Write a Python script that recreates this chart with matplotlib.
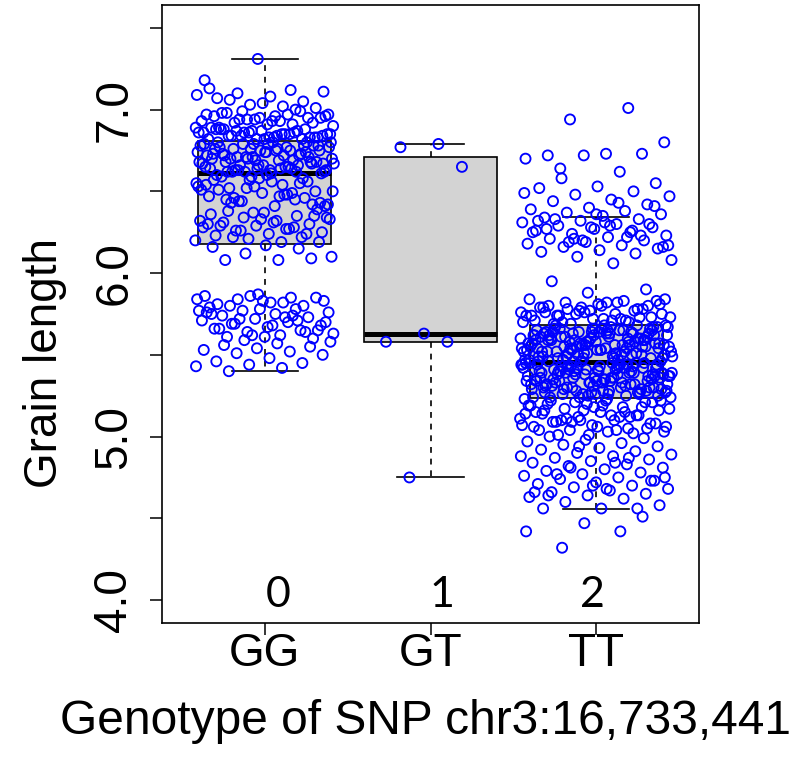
# Grain length by genotype at SNP chr3:16,733,441 (boxplot + jittered points)
import numpy as np
import matplotlib
matplotlib.use("Agg")
import matplotlib.pyplot as plt

# ---- data ----
GENOTYPES = ["GG", "GT", "TT"]
GROUP_CODES = ["0", "1", "2"]

# box statistics (whisker low, Q1, median, Q3, whisker high)
BOX_LOW = [5.40, 4.75, 4.555]
BOX_Q1 = [6.18, 5.58, 5.234]
BOX_MED = [6.61, 5.63, 5.458]
BOX_Q3 = [6.81, 6.71, 5.682]
BOX_HIGH = [7.31, 6.79, 6.343]

GG_VALUES = [
    7.31, 7.18, 7.12, 7.10, 7.11, 7.08, 7.07, 7.05, 7.03, 7.09, 7.02, 7.06, 7.01, 7.04, 7.13, 7.00,
    6.99, 6.97, 6.96, 6.98, 6.95, 6.94, 6.93, 6.97, 6.92, 6.95, 6.91, 6.96, 6.99, 6.94, 6.90, 6.93,
    6.98, 6.92, 6.95, 6.97, 6.91, 6.94, 6.96, 6.93,
    6.89, 6.88, 6.87, 6.86, 6.85, 6.84, 6.83, 6.82, 6.89, 6.87, 6.86, 6.85, 6.84, 6.88, 6.83, 6.82,
    6.86, 6.85, 6.87, 6.84, 6.83, 6.88, 6.82, 6.86, 6.89, 6.85, 6.84, 6.83, 6.87, 6.82, 6.86, 6.84,
    6.85, 6.83, 6.88,
    6.80, 6.79, 6.78, 6.77, 6.76, 6.75, 6.74, 6.73, 6.72, 6.71, 6.70, 6.69, 6.68, 6.67, 6.66, 6.65,
    6.64, 6.63, 6.62, 6.61, 6.80, 6.78, 6.76, 6.74, 6.72, 6.70, 6.68, 6.66, 6.64, 6.62, 6.79, 6.77,
    6.75, 6.73, 6.71, 6.69, 6.67, 6.65, 6.63, 6.61, 6.79, 6.76, 6.73, 6.70, 6.67, 6.64, 6.62, 6.78,
    6.75, 6.72, 6.69, 6.66, 6.63, 6.80, 6.77, 6.74, 6.71, 6.68, 6.65, 6.62, 6.78, 6.74, 6.70, 6.66,
    6.62, 6.80, 6.76, 6.72, 6.68, 6.64, 6.79, 6.75, 6.71, 6.67, 6.63,
    6.60, 6.58, 6.57, 6.55, 6.54, 6.52, 6.50, 6.49, 6.47, 6.45, 6.44, 6.42, 6.41, 6.59, 6.56, 6.53,
    6.51, 6.48, 6.46, 6.43, 6.60, 6.57, 6.55, 6.52, 6.50, 6.47, 6.45, 6.42, 6.58, 6.54, 6.49, 6.44,
    6.41, 6.56, 6.51, 6.46, 6.59, 6.53, 6.48, 6.43,
    6.39, 6.37, 6.36, 6.35, 6.34, 6.33, 6.32, 6.31, 6.30, 6.29, 6.28, 6.27, 6.26, 6.25, 6.24, 6.23,
    6.22, 6.21, 6.20, 6.19, 6.38, 6.35, 6.33, 6.30, 6.28, 6.26, 6.34, 6.31, 6.29, 6.24, 6.37, 6.32,
    6.27, 6.22, 6.19,
    6.17, 6.16, 6.15, 6.12, 6.10, 6.08, 6.08, 6.09,
    5.87, 5.86, 5.85, 5.84, 5.83, 5.82, 5.81, 5.80, 5.86, 5.84, 5.82, 5.80, 5.85, 5.83,
    5.79, 5.78, 5.77, 5.76, 5.75, 5.74, 5.73, 5.72, 5.71, 5.70, 5.69, 5.68, 5.67, 5.66, 5.65, 5.64,
    5.63, 5.62, 5.61, 5.60, 5.78, 5.76, 5.74, 5.72, 5.70, 5.68, 5.66, 5.64, 5.62, 5.77, 5.73, 5.69,
    5.65, 5.61, 5.75, 5.71,
    5.59, 5.58, 5.57, 5.56, 5.55, 5.54, 5.53, 5.52, 5.51, 5.50, 5.48, 5.46, 5.45, 5.44, 5.43, 5.42,
    5.40,
]

GT_VALUES = [6.79, 6.77, 6.65, 5.63, 5.58, 5.58, 4.75]

TT_VALUES = [
    7.01, 6.94, 6.80, 6.73, 6.72, 6.73, 6.72, 6.70, 6.62, 6.58, 6.55, 6.53, 6.52, 6.50, 6.48, 6.47,
    6.45, 6.44, 6.42, 6.40, 6.39, 6.38, 6.37, 6.36, 6.35, 6.34, 6.33, 6.32, 6.31, 6.30, 6.29, 6.28,
    6.27, 6.26, 6.25, 6.24, 6.23, 6.22, 6.21, 6.20, 6.19, 6.18, 6.17, 6.16, 6.15, 6.14, 6.13, 6.12,
    6.10, 6.08, 6.06, 6.33, 6.30, 6.28, 6.25, 6.22, 6.19, 6.16, 6.31, 6.27, 6.23, 6.20, 6.49, 6.43,
    6.64, 6.41, 6.36, 6.32, 6.26, 6.21, 6.17, 6.29,
    5.95, 5.90, 5.88,
    5.84, 5.83, 5.82, 5.81, 5.80, 5.79, 5.78, 5.77, 5.76, 5.75, 5.74, 5.73, 5.72, 5.71, 5.70, 5.69,
    5.84, 5.82, 5.80, 5.78, 5.76, 5.74, 5.72, 5.70, 5.83, 5.81, 5.79, 5.77, 5.75, 5.73, 5.71, 5.69,
    5.80, 5.77, 5.74, 5.71, 5.78, 5.75, 5.72, 5.76, 5.73, 5.79, 5.70, 5.82, 5.74,
    5.67, 5.66, 5.65, 5.64, 5.63, 5.62, 5.61, 5.60, 5.59, 5.58, 5.57, 5.56, 5.55, 5.54, 5.53, 5.52,
    5.51, 5.50, 5.49, 5.48, 5.68, 5.66, 5.64, 5.62, 5.60, 5.58, 5.56, 5.54, 5.52, 5.50, 5.48, 5.47,
    5.65, 5.61, 5.57, 5.53, 5.49, 5.63, 5.59, 5.55, 5.67, 5.64, 5.61, 5.58, 5.55, 5.52, 5.49, 5.46,
    5.66, 5.63, 5.60, 5.57, 5.54, 5.51, 5.48, 5.65, 5.62, 5.59, 5.56, 5.53, 5.68, 5.65, 5.62, 5.59,
    5.56, 5.53, 5.50, 5.47, 5.67, 5.64, 5.61, 5.58, 5.55, 5.52, 5.49, 5.66, 5.63, 5.60, 5.57, 5.54,
    5.51, 5.48, 5.68, 5.64, 5.60, 5.56, 5.52, 5.47, 5.66, 5.62, 5.58, 5.54, 5.50, 5.46, 5.67, 5.63,
    5.59, 5.55, 5.51, 5.47, 5.65, 5.61, 5.57, 5.53, 5.49, 5.68, 5.64, 5.60, 5.56, 5.52, 5.48, 5.66,
    5.62, 5.58, 5.54, 5.50, 5.63, 5.59, 5.55, 5.51,
    5.45, 5.44, 5.43, 5.42, 5.41, 5.40, 5.39, 5.38, 5.37, 5.36, 5.35, 5.34, 5.33, 5.32, 5.31, 5.30,
    5.29, 5.28, 5.27, 5.26, 5.46, 5.44, 5.42, 5.40, 5.38, 5.36, 5.34, 5.32, 5.30, 5.28, 5.26, 5.24,
    5.45, 5.41, 5.37, 5.33, 5.29, 5.25, 5.43, 5.39, 5.45, 5.42, 5.39, 5.36, 5.33, 5.30, 5.27, 5.24,
    5.44, 5.41, 5.38, 5.35, 5.32, 5.29, 5.26, 5.23, 5.43, 5.40, 5.37, 5.34, 5.46, 5.43, 5.40, 5.37,
    5.34, 5.31, 5.28, 5.25, 5.45, 5.42, 5.39, 5.36, 5.33, 5.30, 5.27, 5.24, 5.44, 5.41, 5.38, 5.35,
    5.31, 5.35, 5.39, 5.43, 5.27, 5.23, 5.46, 5.42, 5.38, 5.34, 5.30, 5.26, 5.44, 5.40, 5.36, 5.32,
    5.28, 5.24, 5.45, 5.41, 5.37, 5.33, 5.29, 5.25, 5.43, 5.39, 5.35, 5.31, 5.27, 5.46, 5.42, 5.38,
    5.34, 5.30, 5.26, 5.44, 5.40, 5.36, 5.32, 5.28,
    5.22, 5.21, 5.20, 5.19, 5.18, 5.17, 5.16, 5.15, 5.14, 5.13, 5.12, 5.11, 5.10, 5.09, 5.08, 5.07,
    5.06, 5.05, 5.04, 5.03, 5.22, 5.20, 5.18, 5.16, 5.14, 5.12, 5.10, 5.08, 5.06, 5.04, 5.02, 5.21,
    5.17, 5.13, 5.09, 5.05, 5.01, 5.19, 5.15, 5.11, 5.22, 5.19, 5.16, 5.13, 5.10, 5.07, 5.04, 5.01,
    5.21, 5.18, 5.15, 5.12, 5.09, 5.06, 5.03, 5.00,
    4.99, 4.98, 4.97, 4.96, 4.95, 4.94, 4.93, 4.92, 4.91, 4.90, 4.89, 4.88, 4.87, 4.86, 4.85, 4.84,
    4.83, 4.82, 4.81, 4.80, 4.79, 4.78, 4.77, 4.76, 4.75, 4.74, 4.73, 4.72, 4.71, 4.70, 4.69, 4.68,
    4.67, 4.66, 4.65, 4.64, 4.63, 4.62, 4.60, 4.58, 4.56, 4.56, 4.56, 4.94, 4.88, 4.84, 4.77, 4.73,
    4.70, 4.66, 4.87, 4.81, 4.75, 4.68, 4.64,
    4.51, 4.47, 4.42, 4.42, 4.32,
]

Y_TICKS = [4.0, 4.5, 5.0, 5.5, 6.0, 6.5, 7.0, 7.5]
Y_TICK_LABELS = ["4.0", "", "5.0", "", "6.0", "", "7.0", ""]

X_LABEL = "Genotype of SNP chr3:16,733,441"
Y_LABEL = "Grain length"

# ---- style ----
JITTER = [0.42, 0.30, 0.46]   # half-width of the horizontal jitter per group
FONT = "Liberation Sans"
FS = 33


def jitter_offsets(n, amount, phase):
    # deterministic spread (golden-ratio sequence) instead of random jitter
    k = np.arange(n)
    return ((k * 0.6180339887 + phase) % 1.0 - 0.5) * 2 * amount


def main():
    plt.rcParams["font.family"] = [FONT, "DejaVu Sans"]
    fig = plt.figure(figsize=(8.0, 7.59), dpi=100)
    ax = fig.add_axes([0.2025, 0.1797, 0.67125, 0.8137])

    stats = []
    for i, name in enumerate(GENOTYPES):
        stats.append(dict(label=name, whislo=BOX_LOW[i], q1=BOX_Q1[i], med=BOX_MED[i],
                          q3=BOX_Q3[i], whishi=BOX_HIGH[i], fliers=[]))
    pos = np.arange(1, len(GENOTYPES) + 1)
    ax.bxp(stats, positions=pos, widths=0.8, capwidths=0.4, patch_artist=True,
           showfliers=False,
           boxprops=dict(facecolor="#d3d3d3", edgecolor="black", linewidth=1.2),
           medianprops=dict(color="black", linewidth=3.6, solid_capstyle="butt"),
           whiskerprops=dict(color="black", linewidth=1.2, linestyle=(0, (3.5, 3.5))),
           capprops=dict(color="black", linewidth=1.2))

    groups = [GG_VALUES, GT_VALUES, TT_VALUES]
    for i, vals in enumerate(groups):
        xs = pos[i] + jitter_offsets(len(vals), JITTER[i], 0.13 * i + 0.45)
        ax.scatter(xs, vals, s=52, facecolors="none", edgecolors="#0000ff",
                   linewidths=1.35, zorder=3)

    for i, code in enumerate(GROUP_CODES):
        ax.text(pos[i] + [0.08, 0.07, -0.025][i], 3.957, code, ha="center", va="baseline",
                fontsize=31, family=["Lato", "DejaVu Sans"])

    ax.set_xlim(0.38, 3.62)
    ax.set_ylim(3.862, 7.64)
    ax.set_xticks(pos)
    ax.set_xticklabels(GENOTYPES, fontsize=FS)
    ax.set_yticks(Y_TICKS)
    ax.set_yticklabels(Y_TICK_LABELS, fontsize=FS, rotation=90, va="center")
    ax.tick_params(axis="x", length=8.5, width=1.1, pad=-2)
    ax.tick_params(axis="y", length=8.5, width=1.1, pad=10)
    for sp in ax.spines.values():
        sp.set_linewidth(1.2)

    fig.text(45 / 800, 1 - 363 / 759, Y_LABEL, rotation=90, ha="center", va="center",
             fontsize=FS)
    fig.text(426 / 800, 1 - 722 / 759, X_LABEL, ha="center", va="center", fontsize=34.5)

    fig.savefig("out.png", dpi=100)


if __name__ == "__main__":
    main()
